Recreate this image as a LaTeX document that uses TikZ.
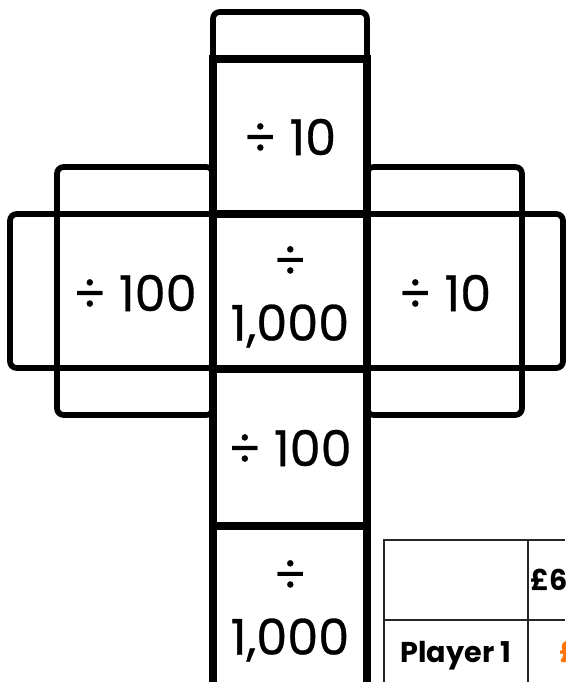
\documentclass[tikz,border=0pt]{standalone}
\usepackage{fontspec}
\setmainfont{Poppins}
\newfontface\signfont[FakeBold=0.6]{Poppins}
\usepackage{tikz}
\usetikzlibrary{positioning}

\begin{document}
\begin{tikzpicture}[
	x=0.75pt,y=-0.75pt,
	face/.style={line width=6.2pt},
	flap/.style={line width=4.3pt,rounded corners=5pt},
	side/.style={line width=4.5pt},
	grid/.style={line width=1.4pt,draw=black!85},
	sign/.style={font=\signfont\fontsize{37}{47}\selectfont,align=center,inner sep=0pt},
	cell/.style={font=\bfseries\fontsize{21.5}{24}\selectfont,inner sep=0pt}
	]
	\useasboundingbox (0,0) rectangle (565,682);
	
	% Flaps
	\draw[flap] (213,59)--(213,12)--(367,12)--(367,59);
	\draw[flap] (57,214)--(57,167)--(213,167)--(213,214);
	\draw[flap] (57,214)--(10,214)--(10,368)--(57,368);
	\draw[flap] (57,368)--(57,415)--(213,415)--(213,368);
	\draw[flap] (367,214)--(367,167)--(522,167)--(522,214);
	\draw[flap] (522,214)--(563,214)--(563,368)--(522,368);
	\draw[flap] (367,368)--(367,415)--(522,415)--(522,368);
	
	% Side faces
	\draw[side] (57,214) rectangle (213,368);
	\draw[side] (367,214) rectangle (522,368);
	
	% Middle column
	\draw[face] (213,682)--(213,59)--(367,59)--(367,682);
	\foreach \y in {214,369,526}
	{
		\draw[face] (213,\y)--(367,\y);
	}
	
	% Faces text
	\node[sign] (f1) at (290,137) {÷ 10};
	\node[sign] (f2) at (290,297) {÷\\1,000};
	\node[sign] (f3) at (290,448) {÷ 100};
	\node[sign] (f4) at (290,611) {÷\\1,000};
	\node[sign] (left) at (135,293) {÷ 100};
	\node[sign] (right) at (445,293) {÷ 10};
	
	% Score table
	\draw[grid] (384,682)--(384,540)--(565,540);
	\draw[grid] (528,540)--(528,682);
	\draw[grid] (384,620)--(565,620);
	\node[cell,anchor=base west] (price) at (530,590) {£6};
	\node[cell,anchor=base] (p1) at (456,662) {Player 1};
	\node[cell,anchor=base west,text=orange!90!red] (p1val) at (559,662) {£};
	
\end{tikzpicture}
\end{document}
